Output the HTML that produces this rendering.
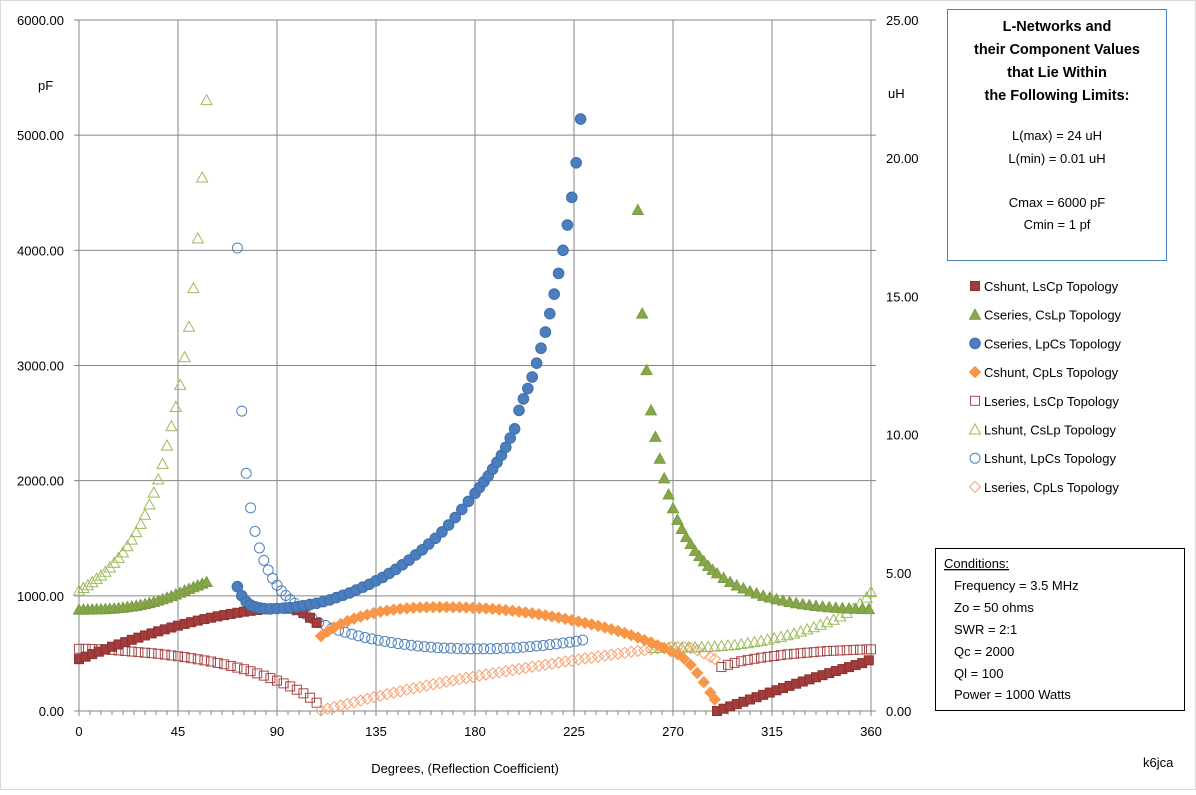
<!DOCTYPE html>
<html><head><meta charset="utf-8"><style>
body{margin:0;background:#fff;font-family:"Liberation Sans",sans-serif;}
svg text{font-family:"Liberation Sans",sans-serif;font-size:13px;fill:#000;}
</style></head><body>
<svg id="chart" width="1196" height="790" xmlns="http://www.w3.org/2000/svg">
<rect x="0.5" y="0.5" width="1195" height="789" fill="#fff" stroke="#d9d9d9"/>
<g id="grid"></g>
<g id="marks"></g>
<g id="axes"></g>
<text x="38" y="90">pF</text>
<text x="888" y="98">uH</text>
<text x="465" y="773" text-anchor="middle">Degrees, (Reflection Coefficient)</text>
<text x="1143" y="767">k6jca</text>
<g>
<rect x="947.5" y="9.5" width="219" height="251" fill="#fff" stroke="#4f81bd"/>
<text x="1057" y="31" text-anchor="middle" style="font-size:14.5px;font-weight:bold">L-Networks and</text>
<text x="1057" y="54" text-anchor="middle" style="font-size:14.5px;font-weight:bold">their Component Values</text>
<text x="1057" y="77" text-anchor="middle" style="font-size:14.5px;font-weight:bold">that Lie Within</text>
<text x="1057" y="100" text-anchor="middle" style="font-size:14.5px;font-weight:bold">the Following Limits:</text>
<text x="1057" y="140" text-anchor="middle">L(max) = 24 uH</text>
<text x="1057" y="163" text-anchor="middle">L(min) = 0.01 uH</text>
<text x="1057" y="207" text-anchor="middle">Cmax = 6000 pF</text>
<text x="1057" y="229" text-anchor="middle">Cmin = 1 pf</text>
</g>
<g id="legend"></g>
<g>
<rect x="935.5" y="548.5" width="249" height="162" fill="#fff" stroke="#000"/>
<text x="944" y="568" text-decoration="underline">Conditions:</text>
<text x="954" y="590">Frequency = 3.5 MHz</text>
<text x="954" y="612">Zo = 50 ohms</text>
<text x="954" y="634">SWR = 2:1</text>
<text x="954" y="656">Qc = 2000</text>
<text x="954" y="678">Ql =  100</text>
<text x="954" y="699">Power = 1000 Watts</text>
</g>
</svg>
<script>
// ---- data ----
const xTicks=[0,45,90,135,180,225,270,315,360];
const leftTicks=[0,1000,2000,3000,4000,5000,6000];
const rightTicks=[0,5,10,15,20,25];
const seriesNames=["Cshunt, LsCp Topology","Cseries, CsLp Topology","Cseries, LpCs Topology","Cshunt, CpLs Topology","Lseries, LsCp Topology","Lshunt, CsLp Topology","Lshunt, LpCs Topology","Lseries, CpLs Topology"];
// Cshunt LsCp (pF)
const aX=[0,3,6,9,12,15,18,21,24,27,30,33,36,39,42,45,48,51,54,57,60,63,66,69,72,75,78,81,84,87,90,93,96,99,102,105,108,290,293,296,299,302,305,308,311,314,317,320,323,326,329,332,335,338,341,344,347,350,353,356,359];
const aY=[450,472,494,515,537,558,578,598,618,637,656,674,692,709,725,741,756,771,785,798,810,822,833,843,853,862,870,877,883,888,891,892,888,875,850,810,765,0,20,40,60,80,100,120,140,160,180,199,218,237,256,275,293,311,329,347,364,381,399,416,440];
// Cseries CsLp (pF)
const bX=[0,2,4,6,8,10,12,14,16,18,20,22,24,26,28,30,32,34,36,38,40,42,44,46,48,50,52,54,56,58,254,256,258,260,262,264,266,268,270,272,274,276,278,280,282,284,286,288,290,293,296,299,302,305,308,311,314,317,320,323,326,329,332,335,338,341,344,347,350,353,356,359];
const bY=[880,880,880,881,882,883,885,887,890,893,897,902,907,913,920,928,937,947,958,970,983,997,1012,1028,1045,1060,1075,1090,1105,1120,4350,3450,2960,2610,2380,2190,2020,1880,1760,1660,1580,1510,1450,1390,1345,1300,1260,1225,1195,1155,1120,1090,1065,1040,1020,1000,985,970,958,946,936,927,919,912,906,901,897,893,890,888,886,885];
// Cseries LpCs (pF)
const cX=[72,74,76,78,80,82,84,87,90,93,96,99,102,105,108,111,114,117,120,123,126,129,132,135,138,141,144,147,150,153,156,159,162,165,168,171,174,177,180,182,184,186,188,190,192,194,196,198,200,202,204,206,208,210,212,214,216,218,220,222,224,226,228];
const cY=[1080,1000,950,920,905,895,890,887,890,893,898,905,915,925,935,950,965,985,1005,1025,1050,1075,1100,1130,1160,1195,1230,1270,1310,1355,1400,1450,1500,1555,1615,1680,1750,1820,1890,1940,1990,2040,2100,2160,2220,2290,2370,2450,2610,2710,2800,2900,3020,3150,3290,3450,3620,3800,4000,4220,4460,4760,5140];
// Cshunt CpLs (pF)
const dX=[110,113,116,119,122,125,128,131,134,137,140,143,146,149,152,155,158,161,164,167,170,173,176,179,182,185,188,191,194,197,200,203,206,209,212,215,218,221,224,227,230,233,236,239,242,245,248,251,254,257,260,263,266,269,272,275,278,281,284,287,289];
const dY=[650,690,725,755,780,802,820,836,850,862,872,880,887,892,896,899,901,902,902,902,901,900,898,896,893,890,886,881,876,870,863,856,848,840,831,821,811,800,789,777,765,752,739,725,710,694,677,658,638,616,595,570,545,520,495,455,400,330,250,160,100];
// Lseries LsCp (uH)
const eX=[0,3,6,9,12,15,18,21,24,27,30,33,36,39,42,45,48,51,54,57,60,63,66,69,72,75,78,81,84,87,90,93,96,99,102,105,108,292,295,298,301,304,307,310,313,316,319,322,325,328,331,334,337,340,343,346,349,352,355,358,360];
const eY=[2.25,2.25,2.24,2.23,2.22,2.21,2.19,2.17,2.15,2.13,2.11,2.09,2.07,2.04,2.01,1.98,1.95,1.91,1.87,1.83,1.79,1.74,1.69,1.63,1.57,1.51,1.44,1.36,1.28,1.19,1.10,1.00,0.89,0.77,0.64,0.48,0.30,1.59,1.67,1.74,1.80,1.85,1.89,1.93,1.96,1.99,2.02,2.05,2.07,2.09,2.11,2.13,2.15,2.17,2.18,2.19,2.20,2.21,2.22,2.23,2.23];
// Lshunt CsLp (uH)
const fX=[0,2,4,6,8,10,12,14,16,18,20,22,24,26,28,30,32,34,36,38,40,42,44,46,48,50,52,54,56,58,262,265,268,271,274,277,280,283,286,289,292,295,298,301,304,307,310,313,316,319,322,325,328,331,334,337,340,343,346,349,352,355,358,360];
const fY=[4.35,4.45,4.55,4.66,4.78,4.9,5.04,5.19,5.36,5.54,5.74,5.96,6.2,6.47,6.77,7.1,7.47,7.9,8.38,8.94,9.6,10.3,11.0,11.8,12.8,13.9,15.3,17.1,19.3,22.1,2.28,2.28,2.28,2.29,2.29,2.3,2.3,2.31,2.32,2.33,2.35,2.37,2.39,2.42,2.45,2.49,2.53,2.58,2.63,2.68,2.74,2.8,2.87,2.95,3.03,3.12,3.21,3.3,3.42,3.55,3.7,3.88,4.1,4.3];
// Lshunt LpCs (uH)
const gX=[72,74,76,78,80,82,84,86,88,90,92,94,96,98,100,103,106,109,112,115,118,121,124,127,130,133,136,139,142,145,148,151,154,157,160,163,166,169,172,175,178,181,184,187,190,193,196,199,202,205,208,211,214,217,220,223,226,229];
const gY=[16.75,10.85,8.6,7.35,6.5,5.9,5.45,5.1,4.8,4.55,4.35,4.18,4.03,3.9,3.7,3.5,3.35,3.2,3.1,3.0,2.92,2.85,2.78,2.72,2.66,2.61,2.56,2.52,2.48,2.44,2.41,2.38,2.35,2.33,2.31,2.29,2.28,2.27,2.26,2.25,2.25,2.25,2.25,2.25,2.26,2.27,2.28,2.29,2.31,2.33,2.35,2.37,2.40,2.43,2.46,2.49,2.53,2.57];
// Lseries CpLs (uH)
const hX=[110,113,116,119,122,125,128,131,134,137,140,143,146,149,152,155,158,161,164,167,170,173,176,179,182,185,188,191,194,197,200,203,206,209,212,215,218,221,224,227,230,233,236,239,242,245,248,251,254,257,260,263,266,269,272,275,278,281,284,287,289];
const hY=[0.02,0.08,0.14,0.2,0.26,0.32,0.38,0.44,0.5,0.55,0.61,0.66,0.71,0.77,0.82,0.87,0.92,0.97,1.01,1.06,1.1,1.15,1.19,1.23,1.28,1.32,1.36,1.4,1.44,1.48,1.52,1.56,1.6,1.63,1.67,1.71,1.75,1.79,1.82,1.86,1.9,1.93,1.97,2.0,2.04,2.07,2.1,2.14,2.17,2.2,2.23,2.26,2.28,2.3,2.31,2.31,2.28,2.2,2.08,1.95,1.88];

// ---- layout ----
const NS="http://www.w3.org/2000/svg";
const L=79,R=871,T=20,B=711;
const sx=v=>L+(v-0)/360*(R-L);
const syL=v=>B-v/6000*(B-T);
const syR=v=>B-v/25*(B-T);
function el(tag,attrs,parent){const e=document.createElementNS(NS,tag);for(const k in attrs)e.setAttribute(k,attrs[k]);parent.appendChild(e);return e;}
const grid=document.getElementById('grid'),axes=document.getElementById('axes'),marks=document.getElementById('marks'),legend=document.getElementById('legend');
xTicks.forEach(t=>{
  const g=el('line',{x1:sx(t),x2:sx(t),y1:T,y2:B+5,stroke:'#868686','stroke-width':1},grid);
  
  
  const tx=el('text',{x:sx(t),y:B+25,'text-anchor':'middle'},axes);tx.textContent=t;
  
  
});
for(let m=5;m<360;m+=5){
  if(m%45===0)continue;
  const mt=el('line',{x1:sx(m),x2:sx(m),y1:B,y2:B+4,stroke:'#868686','stroke-width':1},grid);
  
  
}
leftTicks.forEach(t=>{
  const g=el('line',{x1:L-5,x2:R+5,y1:syL(t),y2:syL(t),stroke:'#868686','stroke-width':1},grid);
  
  
  const tx=el('text',{x:64,y:syL(t)+5,'text-anchor':'end'},axes);tx.textContent=t.toFixed(2);
  
  
});
rightTicks.forEach(t=>{
  const tx=el('text',{x:886,y:syR(t)+5},axes);tx.textContent=t.toFixed(2);
  
  
});
function marker(shape,filled,fill,stroke,cx,cy,parent){
  let e;
  const f=filled?fill:'none',s=stroke;
  if(shape==='square')e=el('rect',{x:cx-4.5,y:cy-4.5,width:9,height:9,fill:f,stroke:s,'stroke-width':1},parent);
  else if(shape==='circle')e=el('circle',{cx:cx,cy:cy,r:filled?5.3:5,fill:f,stroke:s,'stroke-width':1},parent);
  else if(shape==='triangle')e=el('polygon',{points:`${cx},${cy-5.5} ${cx+5.5},${cy+4.5} ${cx-5.5},${cy+4.5}`,fill:f,stroke:s,'stroke-width':1},parent);
  else e=el('polygon',{points:`${cx},${cy-5.5} ${cx+5.5},${cy} ${cx},${cy+5.5} ${cx-5.5},${cy}`,fill:f,stroke:s,'stroke-width':1},parent);
  return e;
}
const styles=[
 {shape:'square',filled:true,fill:'#a33c3c',stroke:'#8c3030'},
 {shape:'triangle',filled:true,fill:'#87a84a',stroke:'#7a9a40'},
 {shape:'circle',filled:true,fill:'#4a7ebf',stroke:'#3f6fab'},
 {shape:'diamond',filled:true,fill:'#f79646',stroke:'#f79646'},
 {shape:'square',filled:false,fill:'none',stroke:'#a84545'},
 {shape:'triangle',filled:false,fill:'none',stroke:'#9bbb59'},
 {shape:'circle',filled:false,fill:'none',stroke:'#4f81bd'},
 {shape:'diamond',filled:false,fill:'none',stroke:'#f8a070'}];
const series=[[eX,eY,syR],[hX,hY,syR],[fX,fY,syR],[gX,gY,syR],[aX,aY,syL],[bX,bY,syL],[dX,dY,syL],[cX,cY,syL]];
const order=[4,7,5,6,0,1,3,2];
series.forEach((s,i)=>{
  const st=styles[order[i]];
  const g=el('g',{},marks);
  
  
  s[0].forEach((x,j)=>{
    const m=marker(st.shape,st.filled,st.fill,st.stroke,sx(x),s[2](s[1][j]),g);
    
    
  });
});
seriesNames.forEach((n,i)=>{
  const y=286+i*28.7;
  const g=el('g',{},legend);
  
  
  const st=styles[i];
  marker(st.shape,st.filled,st.fill,st.stroke,975,y,g);
  const t=el('text',{x:984,y:y+5},g);t.textContent=n;
});
</script>
</body></html>
